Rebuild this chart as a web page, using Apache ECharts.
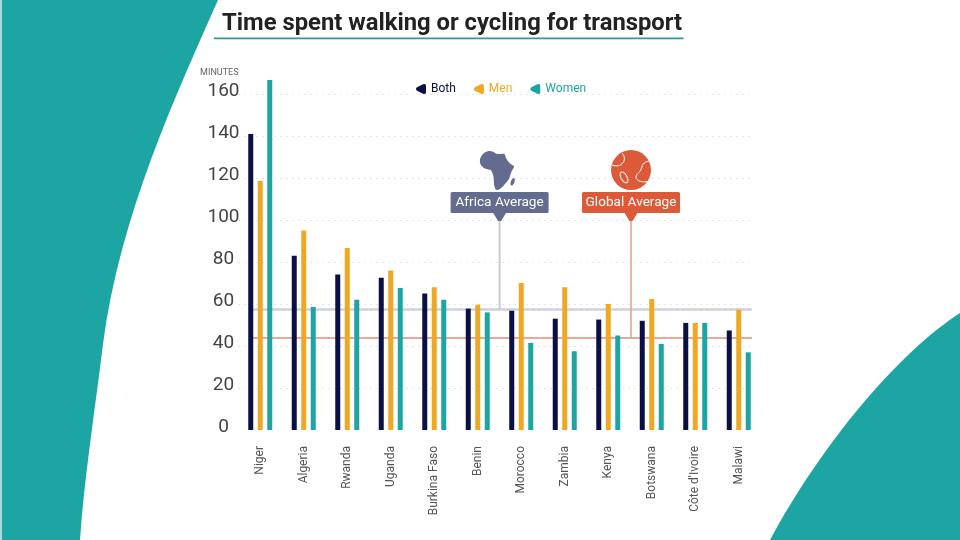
<!DOCTYPE html>
<html>
<head>
    <meta charset="utf-8"/>
    <title>Time spent walking or cycling for transport</title>
    <script src="https://cdn.jsdelivr.net/npm/echarts@6/dist/echarts.min.js"></script>
    <style>
        html, body { margin: 0; padding: 0; background: #fff; }
        #main { width: 960px; height: 540px; }
    </style>
</head>
<body>
<div id="main"></div>
<script>
    var countries = ['Niger', 'Algeria', 'Rwanda', 'Uganda', 'Burkina Faso', 'Benin', 'Morocco', 'Zambia', 'Kenya', 'Botswana', "Côte d'Ivoire", 'Malawi'];
    var both = [141, 83, 74, 72.5, 65, 57.8, 56.8, 53, 52.6, 52, 51, 47.4];
    var men = [118.7, 95, 86.7, 76, 68, 59.7, 70, 68, 60, 62.4, 51, 57.3];
    var women = [166.7, 58.6, 62, 67.6, 62, 56, 41.5, 37.5, 45, 41, 51, 37];
    var yTicks = [0, 20, 40, 60, 80, 100, 120, 140, 160];
    var africaAverage = 57.4;
    var globalAverage = 43.8;

    var TEAL = '#1CA5A3', NAVY = '#0A1045', AMBER = '#EEA823', SLATE = '#636C8E', RED = '#DD5A38';
    var FONT = 'Roboto';

    // legend marker, a rounded wedge pointing left
    var legendIcon = 'path://M0 50 Q0 40 10 33 L70 3 Q100 -8 100 20 L100 80 Q100 108 70 97 L10 67 Q0 60 0 50 Z';

    // callout icons, local coordinates around the icon centre
    var africaPath = 'M-17 -9 C-17 -15 -11 -19 -8 -19 C-4 -20 -2 -16 2 -16 C6 -16 8 -17 8 -15 ' +
        'C9 -12 11 -7 17 -4 C18 -3 15 0 14 3 C13 8 11 11 8 14 C5 18 2 20 0 20 C-2 20 -3 15 -3 12 ' +
        'C-3 7 -4 3 -6 0 C-9 -1 -13 -1 -14 -3 C-16 -4 -17 -6 -17 -9 Z';

    function drawCallout(params, api) {
        var isAfrica = api.value(1) === 0;
        var x = api.coord([api.value(0), 0])[0];
        var tipY = api.coord([0, api.value(2)])[1];
        var colour = isAfrica ? SLATE : RED;
        var name = isAfrica ? 'Africa Average' : 'Global Average';
        var cy = tipY - 52;
        var children = [
            {type: 'rect', shape: {x: x - 49, y: tipY - 30, width: 98, height: 21, r: 1.5}, style: {fill: colour}},
            {type: 'polygon', shape: {points: [[x - 7, tipY - 10], [x + 7, tipY - 10], [x + 1.5, tipY - 1], [x - 1.5, tipY - 1]]}, style: {fill: colour}},
            {type: 'text', style: {text: name, x: x, y: tipY - 19.5, align: 'center', verticalAlign: 'middle', fill: '#fff', font: '13.6px ' + FONT}}
        ];
        if (isAfrica) {
            children.push({type: 'path', shape: {pathData: africaPath}, x: x - 2.7, y: cy, style: {fill: colour}});
            children.push({type: 'ellipse', shape: {cx: 0, cy: 0, rx: 1.8, ry: 4}, x: x + 13, y: cy + 11.7, rotation: -0.35, style: {fill: colour}});
        } else {
            var line = {fill: null, stroke: '#fff', lineWidth: 1};
            children.push({type: 'circle', shape: {cx: x, cy: cy, r: 20}, style: {fill: colour}});
            children.push({type: 'path', shape: {pathData: 'M-19 -5 C-13 -3 -9 -5 -7 -9 C-6 -12 -7 -15 -9 -17'}, x: x, y: cy, style: line});
            children.push({type: 'path', shape: {pathData: 'M19 -9 C14 -9 11 -6 10.5 -2 C10 2 5 3 5 7 C5 11 12 13 19 11'}, x: x, y: cy, style: line});
            children.push({type: 'ellipse', shape: {cx: 0, cy: 0, rx: 3, ry: 6}, x: x - 7, y: cy + 7.3, rotation: 0.5, style: line});
        }
        return {type: 'group', children: children};
    }

    // teal corner shapes behind the chart
    function drawBackground() {
        return {type: 'group', children: [
            {type: 'path', shape: {pathData: 'M0 0 L218 0 C176 95 120 215 103 344 C95 410 84 480 80 540 L0 540 Z'}, style: {fill: TEAL}},
            {type: 'rect', shape: {x: 0, y: 0, width: 2, height: 540}, style: {fill: '#A5DAD8'}},
            {type: 'path', shape: {pathData: 'M960 313 C895 355 818 450 770 540 L960 540 Z'}, style: {fill: TEAL}},
            {type: 'rect', shape: {x: 214, y: 37.6, width: 469.5, height: 1.6}, style: {fill: '#2A9D9B'}}
        ]};
    }

    var chart = echarts.init(document.getElementById('main'), null, {renderer: 'canvas'});
    chart.setOption({
        animation: false,
        backgroundColor: '#fff',
        textStyle: {fontFamily: FONT},
        title: {
            text: 'Time spent walking or cycling for transport',
            left: 217,
            top: 7,
            textStyle: {fontFamily: FONT, fontSize: 23.8, fontWeight: 'bold', color: '#222'}
        },
        legend: {
            top: 78,
            left: 411,
            itemWidth: 10,
            itemHeight: 11,
            itemGap: 18,
            icon: legendIcon,
            data: [
                {name: 'Both', textStyle: {color: NAVY}},
                {name: 'Men', textStyle: {color: AMBER}},
                {name: 'Women', textStyle: {color: TEAL}}
            ],
            textStyle: {fontSize: 12}
        },
        grid: [
            {left: 238.5, top: 73, width: 522, height: 357},
            {left: 238.5, top: 73, width: 513.5, height: 357}
        ],
        xAxis: [
            {
                type: 'category', gridIndex: 0, data: countries,
                axisLine: {show: false}, axisTick: {show: false},
                axisLabel: {rotate: 90, interval: 0, margin: 16, fontSize: 12, color: '#555'}
            },
            // same scale as the categories, used by the average lines and callouts
            {type: 'value', gridIndex: 1, min: -0.5, max: 11.3, show: false}
        ],
        yAxis: [
            {
                type: 'value', gridIndex: 0, min: 0, max: 170, interval: 20,
                name: 'MINUTES', nameLocation: 'end', nameGap: -4,
                nameTextStyle: {fontSize: 9, color: '#666', align: 'right'},
                axisLine: {show: false}, axisTick: {show: false},
                axisLabel: {fontSize: 19, color: '#444', margin: 15, align: 'center', verticalAlign: 'bottom', lineHeight: 6, customValues: yTicks},
                splitLine: {show: false}
            },
            {
                type: 'value', gridIndex: 1, min: 0, max: 170, interval: 20,
                axisLine: {show: false}, axisTick: {show: false}, axisLabel: {show: false},
                splitLine: {show: true, showMinLine: false, showMaxLine: false, lineStyle: {color: '#DDDDD6', type: [1.5, 4.5], width: 1}}
            }
        ],
        series: [
            {
                name: 'background', type: 'custom', coordinateSystem: 'none', silent: true, z: 0,
                renderItem: drawBackground, data: [[0]]
            },
            {
                name: 'africa line', type: 'line', xAxisIndex: 1, yAxisIndex: 1, silent: true, symbol: 'none', z: 1,
                lineStyle: {color: '#CFD0DB', width: 2.5},
                data: [[-0.2, africaAverage], [11.3, africaAverage]]
            },
            {
                name: 'global line', type: 'line', xAxisIndex: 1, yAxisIndex: 1, silent: true, symbol: 'none', z: 1,
                lineStyle: {color: '#E58A78', width: 1.5},
                data: [[-0.2, globalAverage], [11.3, globalAverage]]
            },
            {
                name: 'africa stem', type: 'line', xAxisIndex: 1, yAxisIndex: 1, silent: true, symbol: 'none', z: 1,
                lineStyle: {color: '#C9CBD3', width: 2},
                data: [[5.5, africaAverage], [5.5, 100]]
            },
            {
                name: 'global stem', type: 'line', xAxisIndex: 1, yAxisIndex: 1, silent: true, symbol: 'none', z: 1,
                lineStyle: {color: '#E0A090', width: 1.5},
                data: [[8.52, globalAverage], [8.52, 100]]
            },
            {
                name: 'callouts', type: 'custom', xAxisIndex: 1, yAxisIndex: 1, silent: true, z: 4,
                renderItem: drawCallout,
                encode: {x: 0, y: 2},
                data: [[5.5, 0, 99], [8.52, 1, 99]]
            },
            {name: 'Both', type: 'bar', data: both, barWidth: 5, barGap: '90%', itemStyle: {color: NAVY}, z: 3},
            {name: 'Men', type: 'bar', data: men, barWidth: 5, barGap: '90%', itemStyle: {color: AMBER}, z: 3},
            {name: 'Women', type: 'bar', data: women, barWidth: 5, barGap: '90%', itemStyle: {color: TEAL}, z: 3}
        ]
    });
</script>
</body>
</html>
